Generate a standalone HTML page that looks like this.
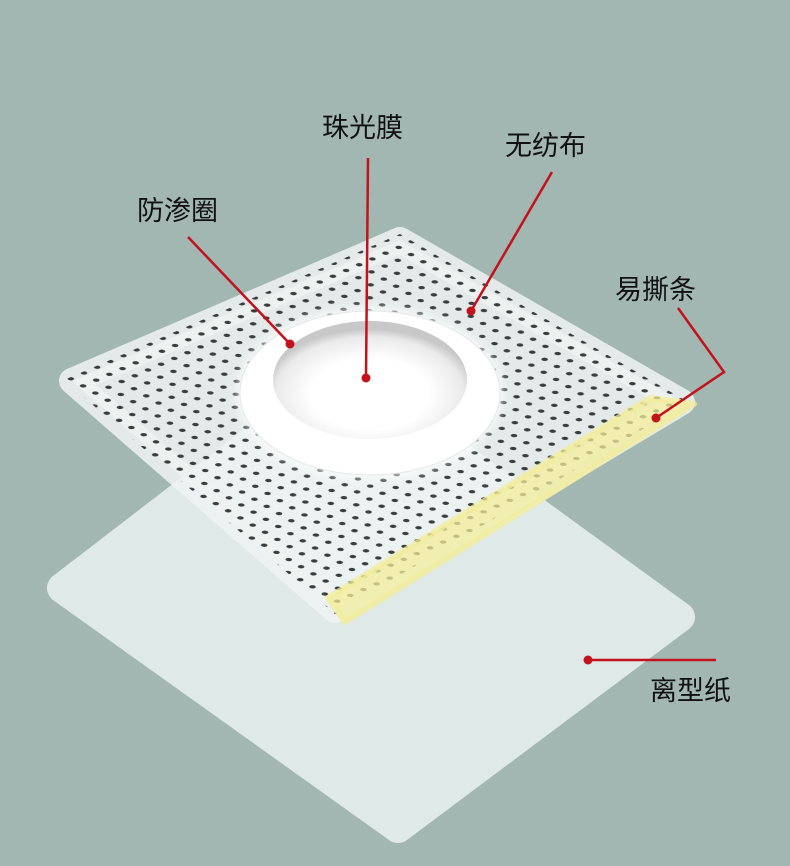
<!DOCTYPE html>
<html><head><meta charset="utf-8"><style>
html,body{margin:0;padding:0;background:#a2b7b2;}
svg{display:block}
text{font-family:"Liberation Sans","Noto Sans CJK SC",sans-serif;font-size:27px;fill:#111;}
</style></head><body>
<svg width="790" height="866" viewBox="0 0 790 866">
<defs>
<pattern id="dots" patternUnits="userSpaceOnUse" width="1" height="1" patternTransform="matrix(12.3,7.17,-13.15,5.77,400,228)">
<circle cx="0.5" cy="0.5" r="0.18" fill="#3a3d3d"/>
</pattern>
<clipPath id="top"><polygon points="400,234 64,380 335,614 688,402"/></clipPath>
<radialGradient id="inner" cx="0.5" cy="0.62" r="0.55">
<stop offset="0.55" stop-color="#ffffff"/><stop offset="0.88" stop-color="#eaeaea"/><stop offset="1" stop-color="#c8c8c8"/>
</radialGradient>
<filter id="glow" x="-30%" y="-30%" width="160%" height="160%"><feGaussianBlur stdDeviation="5"/></filter>
</defs>
<polygon points="343,372 62,588 398,828 680,617" fill="#dfe9e7" stroke="#dfe9e7" stroke-width="30" stroke-linejoin="round"/>
<polygon points="400,240 72,381 335,610 682,402" fill="#eef3f2" fill-opacity="0.85" stroke="#eef3f2" stroke-opacity="0.85" stroke-width="26" stroke-linejoin="round"/>
<g clip-path="url(#top)">
<rect x="0" y="0" width="790" height="866" fill="url(#dots)"/>
</g>
<polygon points="650,398 694,404 345,622 328,598" fill="#f1ec9a" fill-opacity="0.75" stroke="#f1ec9a" stroke-opacity="0.75" stroke-width="6" stroke-linejoin="round"/>
<ellipse cx="370" cy="393" rx="134" ry="86" fill="#ffffff" opacity="0.7" filter="url(#glow)"/>
<ellipse cx="370" cy="393" rx="130" ry="82" fill="#ffffff" stroke="#e4e8e7" stroke-width="1"/>
<ellipse cx="370" cy="380" rx="97" ry="59" fill="url(#inner)"/>
<text x="322" y="137">珠光膜</text>
<text x="505" y="155">无纺布</text>
<text x="137" y="220">防渗圈</text>
<text x="615" y="299">易撕条</text>
<text x="650" y="700">离型纸</text>
<g stroke="#c2121c" stroke-width="2.5" fill="none">
<line x1="368" y1="158" x2="366" y2="378"/>
<line x1="552" y1="172" x2="471" y2="311"/>
<line x1="188" y1="237" x2="290" y2="344"/>
<polyline points="678,308 724,372 656,418"/>
<line x1="588" y1="660" x2="716" y2="660"/>
</g>
<g fill="#c2121c">
<circle cx="366" cy="378" r="4.5"/>
<circle cx="471" cy="311" r="4.5"/>
<circle cx="290" cy="344" r="4.5"/>
<circle cx="656" cy="418" r="4.5"/>
<circle cx="588" cy="660" r="4.5"/>
</g>
</svg>
</body></html>
